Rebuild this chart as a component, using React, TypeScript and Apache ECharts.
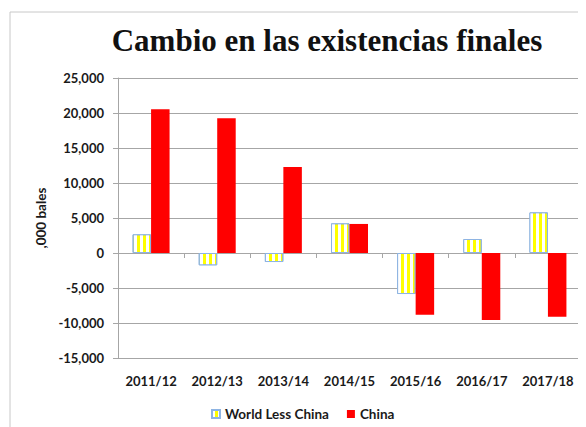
import React, { useEffect, useRef } from "react";
import * as echarts from "echarts";

const categories = ["2011/12", "2012/13", "2013/14", "2014/15", "2015/16", "2016/17", "2017/18"];
const worldLessChina = [2670, -1760, -1290, 4240, -5860, 2000, 5810];
const china = [20530, 19240, 12300, 4150, -8810, -9570, -9100];
const seriesNames = ["World Less China", "China"];
const titleText = "Cambio en las existencias finales";
const yAxisName = ",000 bales";

export default function App() {
  const ref = useRef<HTMLDivElement>(null);
  useEffect(() => {
    if (!ref.current) return;
    const chart = echarts.init(ref.current, null, { renderer: "svg" });
    const labelFont = { fontFamily: "Lato", fontWeight: "bold" as const, fontSize: 13, color: "#1a1a1a" };
    chart.setOption({
      animation: false,
      backgroundColor: "#ffffff",
      graphic: [
        {
          type: "rect",
          shape: { x: 2, y: 4, width: 700, height: 600 },
          style: { fill: "none", stroke: "#c8c8c8", lineWidth: 1 },
          silent: true,
        },
        {
          type: "text",
          x: 319,
          y: 17,
          style: {
            text: titleText,
            font: "bold 31px 'Liberation Serif'",
            fill: "#111111",
            textAlign: "center",
            textVerticalAlign: "top",
          },
        },
      ],
      grid: { left: 110, right: 5, top: 70, bottom: 69, containLabel: false },
      legend: {
        left: 198,
        top: 394,
        itemWidth: 8,
        itemHeight: 8,
        itemGap: 18,
        icon: "rect",
        textStyle: { ...labelFont, fontSize: 13.5 },
        data: seriesNames,
      },
      xAxis: [
        {
          type: "category",
          data: categories,
          axisLine: { onZero: true, lineStyle: { color: "#a6a6a6", width: 1 } },
          axisTick: { show: true, length: 5, lineStyle: { color: "#a6a6a6" } },
          axisLabel: { show: false },
          splitLine: { show: false },
        },
        {
          type: "category",
          data: categories,
          position: "bottom",
          axisLine: { show: false, onZero: false },
          axisTick: { show: false },
          axisLabel: { ...labelFont, margin: 16, interval: 0 },
        },
      ],
      yAxis: {
        type: "value",
        min: -15000,
        max: 25000,
        interval: 5000,
        name: yAxisName,
        nameLocation: "middle",
        nameGap: 66,
        nameTextStyle: { fontFamily: "Lato", fontWeight: "bold", fontSize: 13.5, color: "#1a1a1a" },
        axisLine: { show: true, lineStyle: { color: "#a6a6a6" } },
        axisTick: { show: true, length: 5, lineStyle: { color: "#a6a6a6" } },
        axisLabel: {
          ...labelFont,
          margin: 14,
          formatter: (v: number) => {
            const s = Math.abs(v).toLocaleString("en-US");
            return (v < 0 ? "-" : "") + s;
          },
        },
        splitLine: { show: true, lineStyle: { color: "#a6a6a6", width: 1 } },
      },
      series: [
        {
          name: seriesNames[0],
          type: "bar",
          xAxisIndex: 0,
          data: worldLessChina,
          barWidth: 18.5,
          barGap: "0%",
          itemStyle: {
            color: "#ffff00",
            borderColor: "#8eb4e3",
            borderWidth: 1,
            decal: {
              symbol: "rect",
              symbolSize: 1,
              color: "#ffffff",
              backgroundColor: "#ffff00",
              dashArrayX: [3, 3],
              dashArrayY: [4, 0],
              rotation: 0,
            },
          },
        },
        {
          name: seriesNames[1],
          type: "bar",
          xAxisIndex: 0,
          data: china,
          barWidth: 18.5,
          barGap: "0%",
          itemStyle: { color: "#ff0000" },
        },
      ],
    });
    return () => chart.dispose();
  }, []);
  return <div ref={ref} style={{ width: 578, height: 419 }} />;
}
